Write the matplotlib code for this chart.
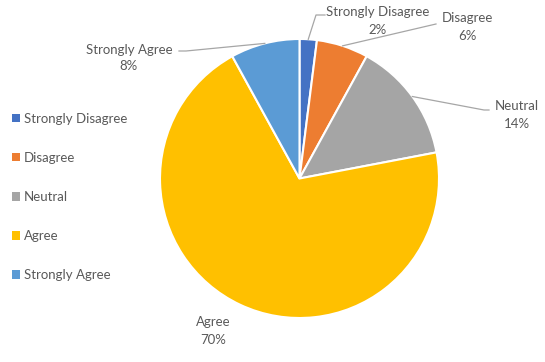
import numpy as np
import matplotlib
matplotlib.use("Agg")
import matplotlib.pyplot as plt

plt.rcParams["font.family"] = ["Lato", "DejaVu Sans"]

categories = ["Strongly Disagree", "Disagree", "Neutral", "Agree", "Strongly Agree"]
values = [2, 6, 14, 70, 8]
colors = ["#4472C4", "#ED7D31", "#A5A5A5", "#FFC000", "#5B9BD5"]

W, H = 545, 362
fig = plt.figure(figsize=(W / 100, H / 100), dpi=100)
ax = fig.add_axes([0, 0, 1, 1])

cx, cy, r = 299.5, H - 178.5, 139.5
wedges, _ = ax.pie(values, colors=colors, startangle=90, counterclock=False,
                   center=(cx, cy), radius=r, frame=True,
                   wedgeprops=dict(edgecolor="white", linewidth=1.5))
ax.set_xlim(0, W)
ax.set_ylim(0, H)
ax.set_aspect("equal")
ax.axis("off")

tc = "#595959"
lc = "#A6A6A6"
fs = 9.5

# label text centers (pixel coords from top) and leader-line elbow points
label_pos = {
    "Strongly Disagree": (378, 21),
    "Disagree": (467, 27),
    "Neutral": (517, 115),
    "Agree": (213, 331),
    "Strongly Agree": (129, 58),
}
elbows = {
    "Strongly Disagree": [(316, 15), (325, 15)],
    "Disagree": [(436, 24)],
    "Neutral": [(484, 110), (489, 110)],
    "Agree": None,
    "Strongly Agree": [(186, 51), (179, 51)],
}

total = sum(values)
cum = 0
for cat, v in zip(categories, values):
    mid = (cum + v / 2) / total * 360
    cum += v
    ang = np.deg2rad(90 - mid)
    sx, sy = cx + r * np.cos(ang), cy + r * np.sin(ang)
    tx, ty = label_pos[cat]
    ax.text(tx, H - ty, f"{cat}\n{v}%", ha="center", va="center", color=tc,
            fontsize=fs, linespacing=1.5)
    if elbows[cat]:
        pts = [(sx, sy)] + [(px, H - py) for px, py in elbows[cat]]
        xs, ys = zip(*pts)
        ax.plot(xs, ys, color=lc, lw=0.9)

leg = ax.legend(wedges, categories, loc="center left", bbox_to_anchor=(7 / W, 1 - 197 / H),
                frameon=False, handlelength=0.6, handleheight=0.6, handletextpad=0.3,
                labelspacing=2.05, fontsize=fs, labelcolor=tc, borderaxespad=0)
for h in leg.legend_handles:
    h.set_edgecolor("none")

fig.savefig("out.png", dpi=100)
